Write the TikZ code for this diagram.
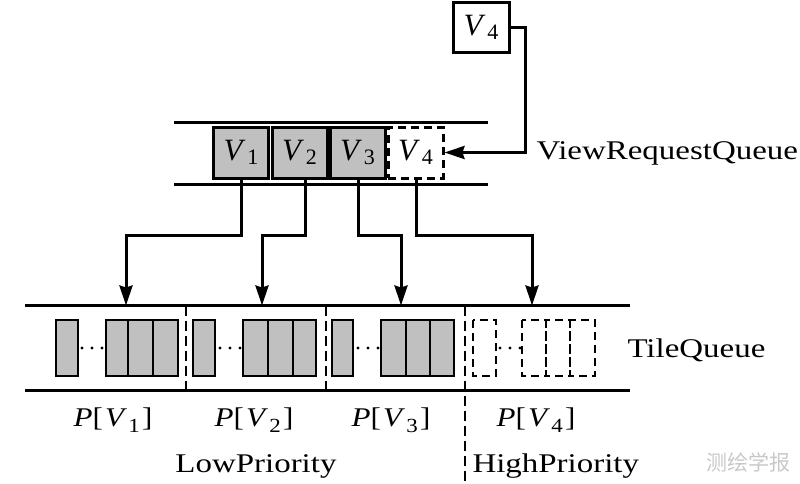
\documentclass[tikz,border=0pt]{standalone}
\usepackage{fontspec}
\setmainfont{Liberation Serif}
\newfontfamily\cjk{Noto Sans CJK SC}
\usepackage{graphicx}
\usetikzlibrary{arrows.meta}
\definecolor{boxgray}{HTML}{C0C0C0}
\definecolor{wmgray}{HTML}{C8C8C8}
\newcommand\wtxt[1]{\scalebox{1.22}[1]{#1}}
\newcommand\vlab[1]{\fontsize{31}{31}\selectfont\textit{V}\kern2pt\raisebox{-4pt}{\fontsize{22}{22}\selectfont #1}}
\newcommand\plab[1]{\fontsize{27}{27}\selectfont\scalebox{1.15}[1]{\textit{P}[\kern2pt\textit{V}\kern1pt\raisebox{-6pt}{\fontsize{20}{20}\selectfont #1}\kern2pt]}}
\begin{document}
\begin{tikzpicture}[x=1pt,y=-1pt,line width=3pt,
  qbox/.style={draw,fill=boxgray,minimum width=55pt,minimum height=51pt,inner sep=0pt,line width=3pt},
  dbox/.style={draw,dash pattern=on 8pt off 5pt,minimum width=55pt,minimum height=51pt,inner sep=0pt,line width=3pt},
  tbox/.style={draw,minimum width=56pt,minimum height=50pt,inner sep=0pt,line width=3pt},
  arr/.style={-{Stealth[length=20pt,width=13pt,inset=2pt]},line width=3pt},
  tile/.style={draw,fill=boxgray,line width=2.6pt},
  dtile/.style={draw,dash pattern=on 8pt off 5pt,line width=2.6pt},
  sep/.style={dash pattern=on 10pt off 5pt,line width=2.8pt},
  lbl/.style={inner sep=0pt,font=\fontsize{27}{27}\selectfont}]
\useasboundingbox (0,0) rectangle (800,483);

% top V4 box
\node[tbox] (top4) at (481,27) {\vlab{4}};

% view request queue
\draw (174,122) -- (488,122);
\draw (174,184) -- (488,184);
\node[qbox] (v1) at (241,152.5) {\vlab{1}};
\node[qbox] (v2) at (299.5,152.5) {\vlab{2}};
\node[qbox] (v3) at (357.5,152.5) {\vlab{3}};
\node[dbox] (v4) at (415.5,152.5) {\vlab{4}};
\node[lbl,anchor=west] (vrq) at (535,153) {\wtxt{ViewRequestQueue}};

\draw[arr] (top4.east) -- ++(15,0) |- (v4.east);

% tile queue lines
\draw (25,305.5) -- (630,305.5);
\draw (25,390) -- (630,390);
\coordinate (t1) at (126,305.5);
\coordinate (t2) at (262,305.5);
\coordinate (t3) at (401,305.5);
\coordinate (t4) at (532,305.5);

\draw[arr] ([xshift=0.5pt]v1.south) -- ++(0,56) -| (t1);
\draw[arr] ([xshift=5.5pt]v2.south) -- ++(0,56) -| (t2);
\draw[arr] ([xshift=0.5pt]v3.south) -- ++(0,56) -| (t3);
\draw[arr] ([xshift=0.5pt]v4.south) -- ++(0,56) -| (t4);

% tiles
\foreach \a/\b in {56/78,106/128,128/153,153/178,193/215,243/268,268/293,293/316,332/353,381/406,406/430,430/454}
  \draw[tile] (\a,320) rectangle (\b,376);
\foreach \a/\b in {473/496,522/546,546/570,570/595}
  \draw[dtile] (\a,320) rectangle (\b,376);
\foreach \s in {82,220,358,500}
  \foreach \k in {0,10,20}
    \fill (\s+\k,348) circle (1.6pt);

% separators
\draw[sep] (186,305.5) -- (186,390);
\draw[sep] (326,305.5) -- (326,390);
\draw[sep] (465,305.5) -- (465,483);

\node[lbl,anchor=west] (tq) at (626,350) {\wtxt{TileQueue}};

\node[lbl] (p1) at (113,420) {\plab{1}};
\node[lbl] (p2) at (254,420) {\plab{2}};
\node[lbl] (p3) at (391,420) {\plab{3}};
\node[lbl] (p4) at (536,420) {\plab{4}};

\node[lbl] (low) at (256,466) {\wtxt{LowPriority}};
\node[lbl,anchor=west] (high) at (471,466) {\wtxt{HighPriority}};

\node[inner sep=0pt,text=wmgray,font=\cjk\fontsize{21}{21}\selectfont] (wm) at (748,462) {测绘学报};
\end{tikzpicture}
\end{document}
